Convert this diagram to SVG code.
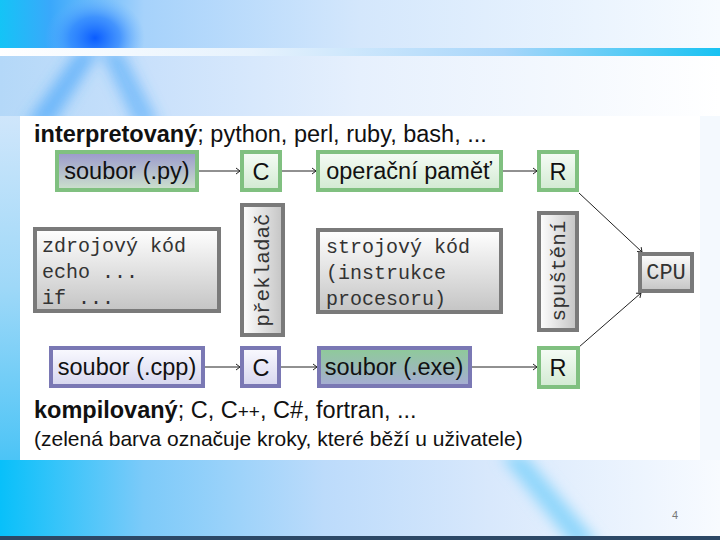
<svg xmlns="http://www.w3.org/2000/svg" width="720" height="540" viewBox="0 0 720 540">
<defs>
<linearGradient id="bgTop" x1="0" y1="0" x2="1" y2="0">
<stop offset="0" stop-color="#14c4f6"/>
<stop offset="0.07" stop-color="#3aa8fb"/>
<stop offset="0.2" stop-color="#a6d2fb"/>
<stop offset="0.5" stop-color="#d4e7fc"/>
<stop offset="1" stop-color="#f7fbff"/>
</linearGradient>
<radialGradient id="spot" cx="0.5" cy="0.5" r="0.5">
<stop offset="0" stop-color="#0a5cff"/>
<stop offset="0.5" stop-color="#2a80ff" stop-opacity="0.7"/>
<stop offset="1" stop-color="#6ab4ff" stop-opacity="0"/>
</radialGradient>
<linearGradient id="hline" x1="0" y1="0" x2="1" y2="0">
<stop offset="0" stop-color="#ffffff"/>
<stop offset="0.35" stop-color="#e6f2fd"/>
<stop offset="0.7" stop-color="#a8d6fa"/>
<stop offset="1" stop-color="#18c2f2"/>
</linearGradient>
<linearGradient id="bgMid" x1="0" y1="0" x2="1" y2="0">
<stop offset="0" stop-color="#b4d8f8"/>
<stop offset="0.2" stop-color="#c8e0fb"/>
<stop offset="0.5" stop-color="#e6f0fd"/>
<stop offset="1" stop-color="#ffffff"/>
</linearGradient>
<linearGradient id="bgBot" x1="0" y1="0" x2="1" y2="0">
<stop offset="0" stop-color="#08c0fa"/>
<stop offset="0.2" stop-color="#7ccaf9"/>
<stop offset="0.45" stop-color="#bcdbfb"/>
<stop offset="0.68" stop-color="#d8e8fc"/>
<stop offset="1" stop-color="#f8fbff"/>
</linearGradient>
<linearGradient id="side" x1="0" y1="0" x2="0" y2="1">
<stop offset="0" stop-color="#cfe6fb"/>
<stop offset="0.5" stop-color="#9ed8f8"/>
<stop offset="1" stop-color="#4cc4f6"/>
</linearGradient>
<linearGradient id="gGreen" x1="0" y1="0" x2="0" y2="1">
<stop offset="0" stop-color="#f6fcf6"/>
<stop offset="1" stop-color="#d2ead2"/>
</linearGradient>
<linearGradient id="gPy" x1="0" y1="0" x2="0" y2="1">
<stop offset="0" stop-color="#9a98cc"/>
<stop offset="1" stop-color="#cde2cd"/>
</linearGradient>
<linearGradient id="gPurple" x1="0" y1="0" x2="0" y2="1">
<stop offset="0" stop-color="#fafaff"/>
<stop offset="1" stop-color="#d6d6ee"/>
</linearGradient>
<linearGradient id="gExe" x1="0" y1="0" x2="0" y2="1">
<stop offset="0" stop-color="#8ecb98"/>
<stop offset="1" stop-color="#a6acd4"/>
</linearGradient>
<linearGradient id="gGray" x1="0" y1="0" x2="0" y2="1">
<stop offset="0" stop-color="#ffffff"/>
<stop offset="1" stop-color="#c4c4c4"/>
</linearGradient>
<linearGradient id="gGrayH" x1="0" y1="0" x2="1" y2="0">
<stop offset="0" stop-color="#ffffff"/>
<stop offset="1" stop-color="#c4c4c4"/>
</linearGradient>
<filter id="blur" x="-50%" y="-50%" width="200%" height="200%">
<feGaussianBlur stdDeviation="7"/>
</filter>
<clipPath id="clipMid"><rect x="0" y="56" width="720" height="60"/></clipPath>
<clipPath id="clipBot"><rect x="0" y="460" width="720" height="76"/></clipPath>
<clipPath id="clipTop"><rect x="0" y="0" width="720" height="48"/></clipPath>
<marker id="arr" markerWidth="10" markerHeight="10" refX="8" refY="4" orient="auto" markerUnits="userSpaceOnUse">
<path d="M4,1 L8,4 L4,7" fill="none" stroke="#222" stroke-width="1"/>
</marker>
</defs>
<style>
.sans{font-family:"Liberation Sans",Arial,sans-serif;fill:#111}
.mono{font-family:"Liberation Mono","Courier New",monospace;fill:#333}
.green{fill:url(#gGreen);stroke:#80c080;stroke-width:4}
.purple{fill:url(#gPurple);stroke:#7a78b4;stroke-width:4}
.gray{fill:url(#gGray);stroke:#7a7a7a;stroke-width:4}
.lbl{font-size:23.5px;text-anchor:middle}
.code{font-size:20px}
.conn line{stroke:#222;stroke-width:1;fill:none}
</style>
<!-- background -->
<rect x="0" y="0" width="720" height="540" fill="#ffffff"/>
<rect x="0" y="0" width="720" height="48" fill="url(#bgTop)"/>
<g clip-path="url(#clipTop)">
<ellipse cx="95" cy="38" rx="50" ry="42" fill="url(#spot)"/>
</g>
<rect x="0" y="48" width="720" height="8" fill="url(#hline)"/>
<rect x="0" y="56" width="720" height="60" fill="url(#bgMid)"/>
<g clip-path="url(#clipMid)" filter="url(#blur)">
<polygon points="78,50 100,50 52,125 25,125" fill="#3aa0fa" opacity="0.6"/>
<polygon points="100,50 122,50 160,125 135,125" fill="#3aa0fa" opacity="0.5"/>
</g>
<rect x="0" y="116" width="20" height="344" fill="url(#side)"/>
<rect x="700" y="116" width="20" height="344" fill="#f4f9fe"/>
<rect x="0" y="460" width="720" height="76" fill="url(#bgBot)"/>
<g clip-path="url(#clipBot)">
<polygon points="500,455 525,455 600,545 572,545" fill="#8ed6fb" filter="url(#blur)"/>
</g>
<rect x="0" y="536" width="720" height="4" fill="#2c4866"/>
<rect x="20" y="116" width="680" height="344" fill="#ffffff"/>
<text x="672" y="519" font-family="Liberation Sans, sans-serif" font-size="11" fill="#777">4</text>
<!-- headings -->
<text class="sans" x="34" y="142" font-size="23.5"><tspan font-weight="bold">interpretovaný</tspan>; python, perl, ruby, bash, ...</text>
<text class="sans" x="34" y="418" font-size="23.5"><tspan font-weight="bold">kompilovaný</tspan>; C, C<tspan font-size="19">++</tspan>, C#, fortran, ...</text>
<text class="sans" x="34" y="446" font-size="21">(zelená barva označuje kroky, které běží u uživatele)</text>
<!-- connectors -->
<g id="connectors" class="conn">
<line x1="199" y1="171" x2="240" y2="171" marker-end="url(#arr)"/>
<line x1="282" y1="171" x2="316" y2="171" marker-end="url(#arr)"/>
<line x1="503" y1="171" x2="537" y2="171" marker-end="url(#arr)"/>
<line x1="579" y1="193" x2="642" y2="252" marker-end="url(#arr)"/>
<line x1="205" y1="367" x2="240" y2="367" marker-end="url(#arr)"/>
<line x1="281" y1="367" x2="317" y2="367" marker-end="url(#arr)"/>
<line x1="472" y1="367" x2="537" y2="367" marker-end="url(#arr)"/>
<line x1="579" y1="347" x2="641" y2="293" marker-end="url(#arr)"/>
</g>
<!-- nodes -->
<g id="py">
<rect x="57" y="152" width="140" height="38" fill="url(#gPy)" stroke="#80c080" stroke-width="4"/>
<text class="sans lbl" x="127" y="179">soubor (.py)</text>
</g>
<g id="c-top">
<rect class="green" x="242" y="152" width="38" height="38"/>
<text class="sans lbl" x="261" y="180">C</text>
</g>
<g id="pamet">
<rect class="green" x="318" y="152" width="183" height="38"/>
<text class="sans lbl" x="409" y="179">operační paměť</text>
</g>
<g id="r-top">
<rect class="green" x="539" y="152" width="38" height="38"/>
<text class="sans lbl" x="558" y="180">R</text>
</g>
<g id="zdroj">
<rect class="gray" x="35" y="229" width="184" height="82"/>
<text class="mono code" x="42" y="252">zdrojový kód</text>
<text class="mono code" x="42" y="278">echo ...</text>
<text class="mono code" x="42" y="304">if ...</text>
</g>
<g id="prekladac">
<rect x="242" y="205" width="41" height="130" fill="url(#gGrayH)" stroke="#7a7a7a" stroke-width="4"/>
<text class="mono" font-size="21" text-anchor="middle" transform="translate(269,270) rotate(-90)">překladač</text>
</g>
<g id="stroj">
<rect class="gray" x="318" y="230" width="183" height="82"/>
<text class="mono code" x="326" y="253">strojový kód</text>
<text class="mono code" x="326" y="279">(instrukce</text>
<text class="mono code" x="326" y="305">procesoru)</text>
</g>
<g id="spusteni">
<rect x="539" y="213" width="38" height="117" fill="url(#gGrayH)" stroke="#7a7a7a" stroke-width="4"/>
<text class="mono" font-size="21" text-anchor="middle" transform="translate(565,271) rotate(-90)">spuštění</text>
</g>
<g id="cpu">
<rect class="gray" x="640" y="254" width="52" height="37"/>
<text class="mono" font-size="22" text-anchor="middle" x="666" y="279">CPU</text>
</g>
<g id="cpp">
<rect class="purple" x="51" y="348" width="152" height="38"/>
<text class="sans lbl" x="127" y="375">soubor (.cpp)</text>
</g>
<g id="c-bot">
<rect class="purple" x="242" y="348" width="37" height="38"/>
<text class="sans lbl" x="261" y="376">C</text>
</g>
<g id="exe">
<rect x="319" y="348" width="151" height="38" fill="url(#gExe)" stroke="#7a78b4" stroke-width="4"/>
<text class="sans lbl" x="394" y="375">soubor (.exe)</text>
</g>
<g id="r-bot">
<rect class="green" x="539" y="348" width="39" height="39"/>
<text class="sans lbl" x="558" y="376">R</text>
</g>
</svg>
